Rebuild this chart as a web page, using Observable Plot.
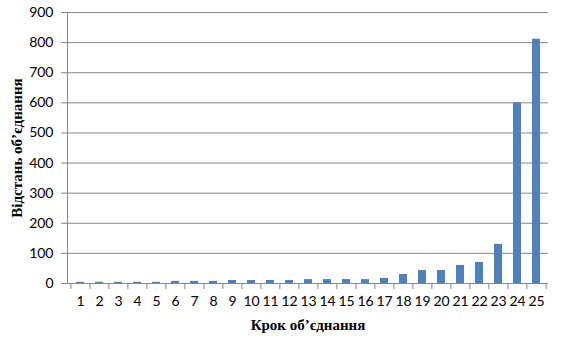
<!DOCTYPE html>
<html>
<head>
<meta charset="utf-8">
<script src="https://cdn.jsdelivr.net/npm/d3@7"></script>
<script src="https://cdn.jsdelivr.net/npm/@observablehq/plot@0.6"></script>
<style>
  html, body { margin: 0; padding: 0; background: #fff; }
</style>
</head>
<body>
<div id="chart"></div>
<script>
const steps = d3.range(1, 26).map(String);
const distances = [4, 4, 4, 4, 4, 7, 7, 7, 10, 10, 10, 10, 13, 13, 13, 13, 17, 30, 43, 43, 60, 70, 130, 600, 811];
const yTicks = [0, 100, 200, 300, 400, 500, 600, 700, 800, 900];
const xTitle = "Крок об’єднання";
const yTitle = "Відстань об’єднання";

const data = steps.map((s, i) => ({step: s, value: distances[i]}));

const W = 563, H = 349;
const mL = 67, mR = 15, mT = 12, mB = 66;
const step = (W - mL - mR) / steps.length;
const tickFont = "Lato, 'Open Sans', sans-serif";
const titleFont = "'Liberation Serif', 'Times New Roman', serif";
const gridColor = "#868686";

const chart = Plot.plot({
  width: W,
  height: H,
  marginLeft: mL,
  marginRight: mR,
  marginTop: mT,
  marginBottom: mB,
  style: {background: "#fff", fontFamily: tickFont, fontSize: "14px", color: "#000"},
  x: {domain: steps, paddingInner: 0.58, paddingOuter: 0.29, axis: null},
  y: {domain: [0, 900], axis: null},
  marks: [
    Plot.gridY(yTicks, {stroke: gridColor, strokeOpacity: 1, strokeWidth: 1}),
    Plot.axisY(yTicks, {tickSize: 6, tickPadding: 8, stroke: gridColor, fontSize: 14, fontFamily: tickFont, label: null, fill: "#000"}),
    Plot.frame({anchor: "left", stroke: gridColor}),
    Plot.barY(data, {x: "step", y: "value", fill: "#4F81BD"}),
    Plot.ruleY([0], {stroke: gridColor}),
    Plot.axisX(steps, {tickSize: 6, text: null, dx: -step / 2, stroke: gridColor, label: null}),
    Plot.axisX([steps[steps.length - 1]], {tickSize: 6, text: null, dx: step / 2, stroke: gridColor, label: null}),
    Plot.axisX(steps, {tickSize: 0, tickPadding: 13, fontSize: 14, fontFamily: tickFont, label: null, fill: "#000"}),
    Plot.text([yTitle], {frameAnchor: "left", textAnchor: "middle", dx: -50, rotate: -90, fontFamily: titleFont, fontWeight: "bold", fontSize: 15, fill: "#000"}),
    Plot.text([xTitle], {frameAnchor: "bottom", textAnchor: "middle", dy: 46, fontFamily: titleFont, fontWeight: "bold", fontSize: 15, fill: "#000"})
  ]
});
document.getElementById("chart").appendChild(chart);
</script>
</body>
</html>
